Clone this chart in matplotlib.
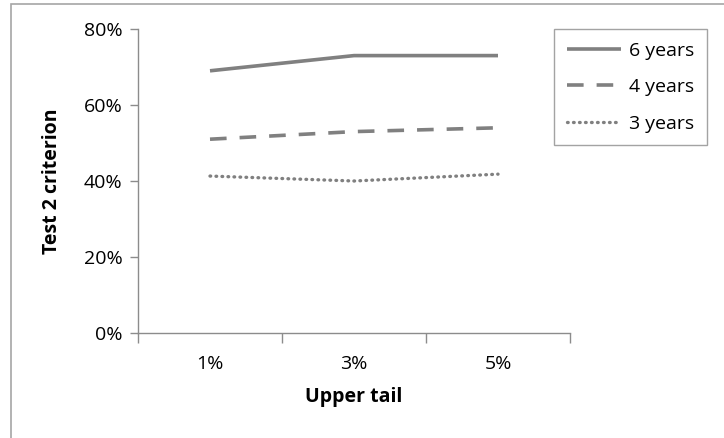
import matplotlib.pyplot as plt
from matplotlib.patches import Rectangle
from matplotlib.ticker import FuncFormatter

categories = ['1%', '3%', '5%']
six_years = [0.69, 0.73, 0.73]
four_years = [0.51, 0.53, 0.54]
three_years = [0.413, 0.40, 0.418]

plt.rcParams['font.family'] = ['Open Sans', 'DejaVu Sans']
grey = '#808080'
axis_grey = '#8c8c8c'

fig = plt.figure(figsize=(7.24, 4.38), dpi=100)
# outer chart frame (only top/left visible in the reference)
fig.patches.append(Rectangle((11 / 724, -0.1), 1.2, 1 - 4 / 438 + 0.1,
                             transform=fig.transFigure, fill=False,
                             edgecolor='#a6a6a6', linewidth=1.2))

ax = fig.add_axes([138 / 724, 1 - 333 / 438, 432 / 724, 304 / 438])

x = range(len(categories))
ax.plot(x, six_years, color=grey, lw=2.6, solid_capstyle='butt', label='6 years')
ax.plot(x, four_years, color=grey, lw=2.6, dashes=(4.6, 3.6), label='4 years')
ax.plot(x, three_years, color=grey, lw=2.4, linestyle=(0, (0.2, 1.6)),
        dash_capstyle='round', label='3 years')

ax.set_xlim(-0.5, 2.5)
ax.set_ylim(0, 0.8)
ax.set_yticks([0, 0.2, 0.4, 0.6, 0.8])
ax.yaxis.set_major_formatter(FuncFormatter(lambda v, p: f'{v * 100:.0f}%'))

ax.set_xticks([-0.5, 0.5, 1.5, 2.5])
ax.set_xticklabels([])
ax.set_xticks(list(x), minor=True)
ax.set_xticklabels(categories, minor=True)
ax.tick_params(axis='x', which='major', direction='out', length=7, color=axis_grey, width=1)
ax.tick_params(axis='x', which='minor', length=0, pad=16, labelsize=14)
ax.tick_params(axis='y', direction='out', length=6, color=axis_grey, width=1, pad=5, labelsize=14)

for side in ['top', 'right']:
    ax.spines[side].set_visible(False)
for side in ['left', 'bottom']:
    ax.spines[side].set_color(axis_grey)
    ax.spines[side].set_linewidth(1)

ax.set_xlabel('Upper tail', fontsize=14, fontweight='bold', labelpad=10)
ax.set_ylabel('Test 2 criterion', fontsize=14, fontweight='bold', labelpad=16)

leg = fig.legend(loc='upper left', bbox_to_anchor=(554 / 724, 1 - 29 / 438),
                 borderaxespad=0, frameon=True, fancybox=False, fontsize=14,
                 handlelength=2.8, labelspacing=0.95, borderpad=0.65, handletextpad=0.4)
leg.get_frame().set_edgecolor(axis_grey)
leg.get_frame().set_linewidth(1)

fig.savefig('out.png', dpi=100)
